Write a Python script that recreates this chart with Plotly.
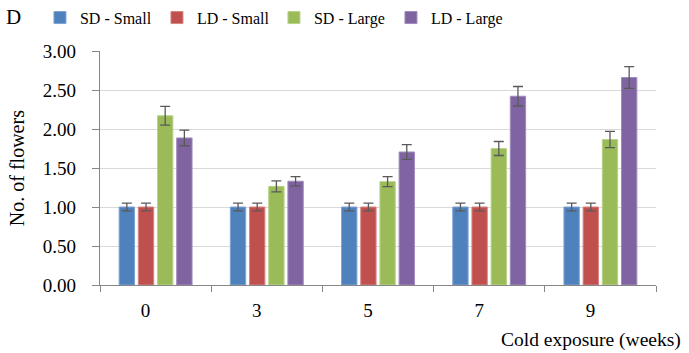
import plotly.graph_objects as go

weeks = ["0", "3", "5", "7", "9"]
series_names = ["SD - Small", "LD - Small", "SD - Large", "LD - Large"]
sd_small = [1.00, 1.00, 1.00, 1.00, 1.00]
ld_small = [1.00, 1.00, 1.00, 1.00, 1.00]
sd_large = [2.17, 1.265, 1.325, 1.75, 1.865]
ld_large = [1.885, 1.33, 1.705, 2.42, 2.66]
err_sd_small = [0.05, 0.05, 0.05, 0.05, 0.05]
err_ld_small = [0.05, 0.05, 0.05, 0.05, 0.05]
err_sd_large = [0.12, 0.07, 0.065, 0.09, 0.105]
err_ld_large = [0.10, 0.06, 0.095, 0.125, 0.14]
colors = ["#4F81BD", "#C0504D", "#9BBB59", "#8064A2"]
edge = ["#7FA3D3", "#D58584", "#B9D28A", "#A08BBE"]

values = [sd_small, ld_small, sd_large, ld_large]
errors = [err_sd_small, err_ld_small, err_sd_large, err_ld_large]

FONT = "Liberation Serif"

fig = go.Figure()
for name, vals, errs, c, e in zip(series_names, values, errors, colors, edge):
    fig.add_trace(go.Bar(
        x=weeks, y=vals, name=name,
        marker=dict(color=c, line=dict(color=e, width=1)),
        error_y=dict(type="data", array=errs, visible=True,
                     color="#595959", thickness=1.3, width=5),
    ))

fig.update_layout(
    width=689, height=353,
    margin=dict(l=100, r=33, t=51, b=68, autoexpand=False),
    paper_bgcolor="white", plot_bgcolor="white",
    font=dict(family=FONT, size=16, color="black"),
    barmode="group", bargap=0.31, bargroupgap=0.2,
    showlegend=True,
    legend=dict(orientation="h", x=0.058, xanchor="left", xref="container",
                y=0.95, yanchor="middle", yref="container",
                font=dict(size=16, family=FONT),
                entrywidth=72, itemwidth=30, traceorder="normal"),
    xaxis=dict(type="category", tickson="boundaries", ticks="outside", ticklen=6,
               tickcolor="#868686", showline=True, linecolor="#868686", linewidth=1.3,
               showgrid=False, automargin=False, ticklabelshift=-10, ticklabelstandoff=8,
               tickfont=dict(size=19, family=FONT)),
    yaxis=dict(range=[0, 3], dtick=0.5, tickformat=".2f", ticks="outside", ticklen=7,
               tickcolor="#868686", showline=True, linecolor="#868686", linewidth=1.3,
               gridcolor="#D9D9D9", gridwidth=1.3, zeroline=False, automargin=False,
               ticklabelstandoff=12, tickfont=dict(size=19, family=FONT)),
    annotations=[
        dict(text="D", xref="paper", yref="paper", x=-0.156, y=1.145,
             xanchor="center", yanchor="middle", showarrow=False,
             font=dict(size=21, family=FONT)),
        dict(text="No. of flowers", xref="paper", yref="paper", x=-0.149, y=0.5,
             textangle=-90, xanchor="center", yanchor="middle", showarrow=False,
             font=dict(size=20, family=FONT)),
        dict(text="Cold exposure (weeks)", xref="paper", yref="paper", x=1.0486, y=-0.235,
             xanchor="right", yanchor="middle", showarrow=False,
             font=dict(size=19.5, family=FONT)),
    ],
)

fig.write_html("out.html", config={"displayModeBar": False},
               post_script="document.body.style.margin='0';")
